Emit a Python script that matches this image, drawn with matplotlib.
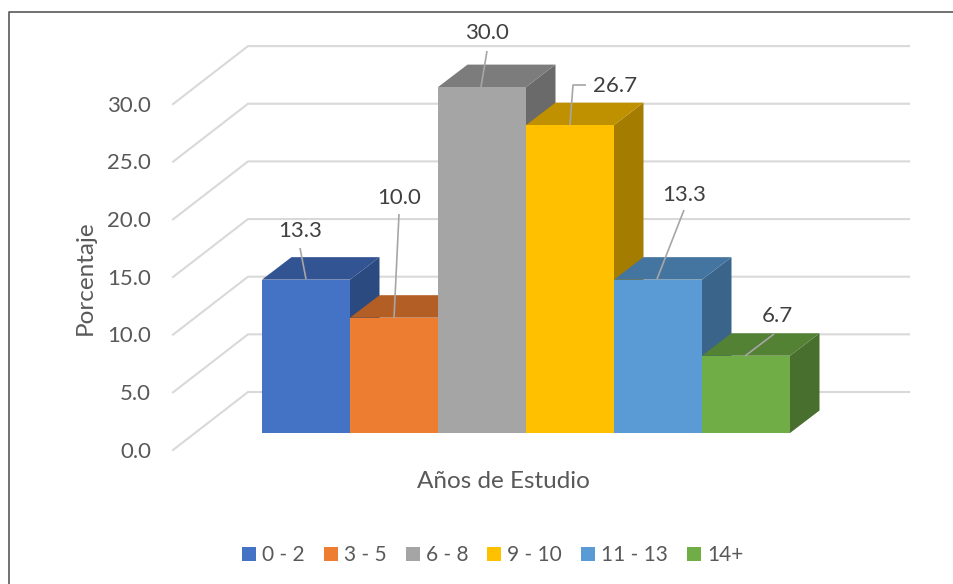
import matplotlib
matplotlib.use('Agg')
from matplotlib import pyplot as plt
from matplotlib.patches import Polygon, Rectangle

categories = ['0 - 2', '3 - 5', '6 - 8', '9 - 10', '11 - 13', '14+']
values = [13.3, 10.0, 30.0, 26.7, 13.3, 6.7]
front_colors = ['#4472C4', '#ED7D31', '#A5A5A5', '#FFC000', '#5B9BD5', '#70AD47']
top_colors = ['#325493', '#B35E24', '#7C7C7C', '#BF9000', '#4475A0', '#548235']
side_colors = ['#2B4A80', '#9A501F', '#6A6A6A', '#A47C00', '#3A6489', '#486F2D']
y_ticks = [0, 5, 10, 15, 20, 25, 30]

# pixels of the 954x584 picture, used to lay the data scale over the figure
W, H = 954, 584
BAR_LEFT = 262
BAR_W = 88
BASE_Y = 433
PX_PER_UNIT = 11.53

# oblique offsets in data units
BAR_DX = 29.5 / BAR_W
BAR_DY = 22.5 / PX_PER_UNIT
WALL_DX = 75 / BAR_W
WALL_DY = 58 / PX_PER_UNIT
AXIS_X = (173 - BAR_LEFT) / BAR_W - 0.5
AXIS_Y0 = -17 / PX_PER_UNIT
GRID_END = (909 - BAR_LEFT) / BAR_W - 0.5

TEXT = '#404040'
AXIS_TEXT = '#595959'
GRID = '#D9D9D9'
LEADER = '#A6A6A6'


def px_x(px):
    return (px - BAR_LEFT) / BAR_W - 0.5


def px_y(px):
    return (BASE_Y - px) / PX_PER_UNIT


def draw_walls(ax):
    for t in y_ticks:
        y = AXIS_Y0 + t
        ax.plot([AXIS_X, AXIS_X + WALL_DX, GRID_END], [y, y + WALL_DY, y + WALL_DY],
                color=GRID, lw=1.5, solid_joinstyle='miter', zorder=1)
        ax.text(px_x(151), y - 1.5 / PX_PER_UNIT, f'{t:.1f}', ha='right', va='center',
                fontsize=16, color=AXIS_TEXT)


def draw_bars(ax):
    for i, v in enumerate(values):
        x0, x1 = i - 0.5, i + 0.5
        side = [(x1, 0), (x1 + BAR_DX, BAR_DY), (x1 + BAR_DX, v + BAR_DY), (x1, v)]
        top = [(x0, v), (x0 + BAR_DX, v + BAR_DY), (x1 + BAR_DX, v + BAR_DY), (x1, v)]
        ax.add_patch(Polygon(side, facecolor=side_colors[i], edgecolor='none', zorder=2 + i))
        ax.add_patch(Polygon(top, facecolor=top_colors[i], edgecolor='none', zorder=2 + i))
        ax.add_patch(Rectangle((x0, 0), 1, v, facecolor=front_colors[i], edgecolor='none', zorder=2 + i))


def draw_labels(ax):
    # leader line pixels: from bar top to label
    leaders = [
        [(306, 279), (300, 248)],
        [(394, 318), (399, 214)],
        [(481, 87), (487, 51)],
        [(570, 125), (573, 85), (586, 85)],
        [(657, 279), (684, 210)],
        [(745, 356), (774, 334)],
    ]
    label_pos = [(300, 231), (399, 198), (487, 33), (615, 86), (684, 195), (777, 316)]
    for i, v in enumerate(values):
        xs = [px_x(p[0]) for p in leaders[i]]
        ys = [px_y(p[1]) for p in leaders[i]]
        ax.plot(xs, ys, color=LEADER, lw=1.2, solid_capstyle='butt', zorder=20)
        lx, ly = label_pos[i]
        ax.text(px_x(lx), px_y(ly), f'{v:.1f}', ha='center', va='center', fontsize=16,
                color=TEXT, zorder=21)


def draw_legend(ax):
    swatches = [242, 324, 406, 487, 581, 687]
    for x, name, col in zip(swatches, categories, front_colors):
        ax.add_patch(Rectangle((px_x(x), px_y(561)), 14 / BAR_W, 14 / PX_PER_UNIT,
                               facecolor=col, edgecolor='none'))
        ax.text(px_x(x + 20), px_y(555), name, ha='left', va='center', fontsize=15, color=AXIS_TEXT)


def main():
    plt.rcParams['font.family'] = ['Lato', 'DejaVu Sans']
    fig = plt.figure(figsize=(W / 100, H / 100), dpi=100)
    ax = fig.add_axes([0, 0, 1, 1])
    ax.set_xlim(px_x(0), px_x(W))
    ax.set_ylim(px_y(H), px_y(0))
    ax.axis('off')

    # chart frame: only top and left edges show, the rest is cropped away
    ax.plot([px_x(8.5), px_x(8.5), px_x(W)], [px_y(H), px_y(12), px_y(12)],
            color='#595959', lw=1.2, zorder=0)

    draw_walls(ax)
    draw_bars(ax)
    draw_labels(ax)
    draw_legend(ax)
    ax.text(px_x(503), px_y(481), 'Años de Estudio', ha='center', va='center', fontsize=17.5, color=AXIS_TEXT)
    ax.text(px_x(85), px_y(278), 'Porcentaje', ha='center', va='center', rotation=90, fontsize=17.5, color=AXIS_TEXT)

    fig.savefig('out.png', dpi=100)


if __name__ == '__main__':
    main()
